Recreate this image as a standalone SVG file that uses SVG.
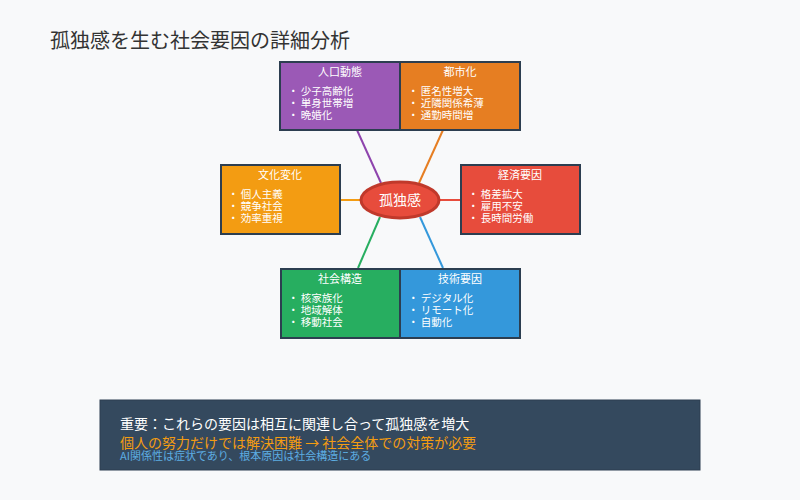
<svg xmlns="http://www.w3.org/2000/svg" width="800" height="500" viewBox="0 0 800 500">
<style>
text{font-family:"Noto Sans CJK JP","Noto Sans",sans-serif}
.b{stroke:#2c3e50;stroke-width:2}
.t{fill:#fff;font-size:11px;text-anchor:middle}
.i{fill:#fff;font-size:10.5px}
.c{stroke-width:2;fill:none}
</style>
<rect width="800" height="500" fill="#f8f9fa"/>
<text x="50" y="48" font-size="20" fill="#333">孤独感を生む社会要因の詳細分析</text>
<g id="connectors">
<line class="c" x1="357" y1="130" x2="381" y2="183" stroke="#8e44ad"/>
<line class="c" x1="443" y1="130" x2="419" y2="183" stroke="#e67e22"/>
<line class="c" x1="340" y1="200" x2="361" y2="200" stroke="#f39c12"/>
<line class="c" x1="439" y1="200" x2="461" y2="200" stroke="#e74c3c"/>
<line class="c" x1="380" y1="217" x2="358" y2="268" stroke="#27ae60"/>
<line class="c" x1="420" y1="217" x2="443" y2="268" stroke="#3498db"/>
</g>
<g id="n-jinko"><rect class="b" x="280" y="62" width="120" height="68" fill="#9b59b6"/>
<text class="t" x="340" y="76">人口動態</text>
<text class="i" x="288" y="95">・ 少子高齢化</text><text class="i" x="288" y="107">・ 単身世帯増</text><text class="i" x="288" y="119">・ 晩婚化</text></g>
<g id="n-toshi"><rect class="b" x="400" y="62" width="120" height="68" fill="#e67e22"/>
<text class="t" x="460" y="76">都市化</text>
<text class="i" x="408" y="95">・ 匿名性増大</text><text class="i" x="408" y="107">・ 近隣関係希薄</text><text class="i" x="408" y="119">・ 通勤時間増</text></g>
<g id="n-bunka"><rect class="b" x="221" y="165" width="119" height="69" fill="#f39c12"/>
<text class="t" x="280" y="179">文化変化</text>
<text class="i" x="228" y="198">・ 個人主義</text><text class="i" x="228" y="210">・ 競争社会</text><text class="i" x="228" y="222">・ 効率重視</text></g>
<g id="n-keizai"><rect class="b" x="461" y="165" width="119" height="69" fill="#e74c3c"/>
<text class="t" x="520" y="179">経済要因</text>
<text class="i" x="468" y="198">・ 格差拡大</text><text class="i" x="468" y="210">・ 雇用不安</text><text class="i" x="468" y="222">・ 長時間労働</text></g>
<g id="n-shakai"><rect class="b" x="281" y="269" width="119" height="69" fill="#27ae60"/>
<text class="t" x="340" y="283">社会構造</text>
<text class="i" x="288" y="302">・ 核家族化</text><text class="i" x="288" y="314">・ 地域解体</text><text class="i" x="288" y="326">・ 移動社会</text></g>
<g id="n-gijutsu"><rect class="b" x="400" y="269" width="120" height="69" fill="#3498db"/>
<text class="t" x="460" y="283">技術要因</text>
<text class="i" x="408" y="302">・ デジタル化</text><text class="i" x="408" y="314">・ リモート化</text><text class="i" x="408" y="326">・ 自動化</text></g>
<g id="n-center"><ellipse cx="400" cy="200" rx="39" ry="18" fill="#e74c3c" stroke="#c0392b" stroke-width="3"/>
<text x="400" y="205" font-size="14" fill="#fff" text-anchor="middle">孤独感</text></g>
<g id="note"><rect x="100" y="400" width="600" height="70" fill="#34495e" stroke="#2c3e50" stroke-width="1"/>
<text x="120" y="429" font-size="14" fill="#fff">重要：これらの要因は相互に関連し合って孤独感を増大</text>
<text x="120" y="448" font-size="14" fill="#f39c12">個人の努力だけでは解決困難 → 社会全体での対策が必要</text>
<text x="120" y="460" font-size="11" fill="#5dade2">AI関係性は症状であり、根本原因は社会構造にある</text></g>
</svg>
